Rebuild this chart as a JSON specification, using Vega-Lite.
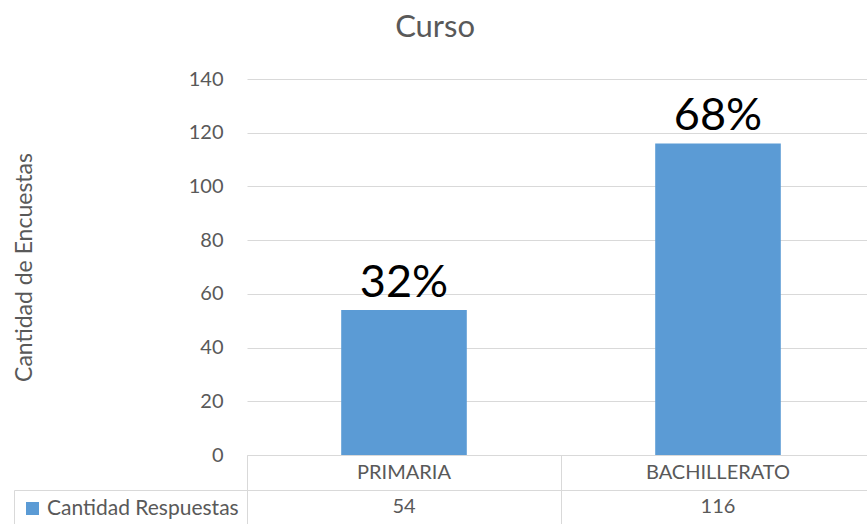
{
  "$schema": "https://vega.github.io/schema/vega-lite/v6.json",
  "padding": {"left": 13, "top": 12, "right": 0, "bottom": 0},
  "config": {"font": "Lato", "view": {"stroke": null}},
  "title": {"text": "Curso", "fontSize": 31, "fontWeight": "normal", "color": "#595959", "anchor": "middle", "frame": "bounds", "offset": 25, "dx": -9},
  "datasets": {
    "curso": [
      {"curso": "PRIMARIA", "cantidad": 54, "pct": "32%", "serie": "Cantidad Respuestas"},
      {"curso": "BACHILLERATO", "cantidad": 116, "pct": "68%", "serie": "Cantidad Respuestas"}
    ]
  },
  "bounds": "flush",
  "spacing": 0,
  "resolve": {"scale": {"color": "independent"}, "legend": {"color": "independent"}},
  "vconcat": [
    {
      "width": 628,
      "height": 376,
      "data": {"name": "curso"},
      "encoding": {
        "x": {"field": "curso", "type": "nominal", "sort": ["PRIMARIA", "BACHILLERATO"],
              "scale": {"paddingInner": 0.6, "paddingOuter": 0.3},
              "axis": {"title": null, "labels": false, "ticks": false, "domainColor": "#d9d9d9"}},
        "y": {"field": "cantidad", "type": "quantitative", "scale": {"domain": [0, 140]},
              "axis": {"values": [0, 20, 40, 60, 80, 100, 120, 140], "title": "Cantidad de Encuestas",
                       "titleFontSize": 23, "titleFontWeight": "normal", "titleColor": "#595959", "titlePadding": 152,
                       "labelFontSize": 20, "labelColor": "#595959", "labelPadding": 24,
                       "ticks": false, "domain": false, "gridColor": "#d9d9d9"}}
      },
      "layer": [
        {"mark": {"type": "bar", "color": "#5B9BD5"}},
        {"mark": {"type": "text", "fontSize": 45, "dy": -13, "baseline": "alphabetic", "color": "#000000"},
         "encoding": {"text": {"field": "pct"}}}
      ]
    },
    {
      "width": 628,
      "height": 35,
      "data": {"name": "curso"},
      "mark": {"type": "text", "fontSize": 20, "color": "#595959", "baseline": "middle"},
      "encoding": {
        "x": {"field": "curso", "type": "nominal", "sort": ["PRIMARIA", "BACHILLERATO"], "scale": {"padding": 0},
              "axis": {"title": null, "labels": false, "ticks": false, "grid": true, "tickBand": "extent",
                       "gridColor": "#d9d9d9", "domainColor": "#d9d9d9"}},
        "text": {"field": "curso"}
      }
    },
    {
      "width": 628,
      "height": 34,
      "data": {"name": "curso"},
      "encoding": {
        "x": {"field": "curso", "type": "nominal", "sort": ["PRIMARIA", "BACHILLERATO"], "scale": {"padding": 0},
              "axis": {"title": null, "labels": false, "ticks": false, "grid": true, "tickBand": "extent",
                       "gridColor": "#d9d9d9", "domain": false}}
      },
      "layer": [
        {"mark": {"type": "text", "fontSize": 20, "color": "#595959", "baseline": "middle"},
         "encoding": {"text": {"field": "cantidad"}}},
        {"mark": {"type": "square", "opacity": 0},
         "encoding": {"color": {"field": "serie", "type": "nominal", "scale": {"range": ["#5B9BD5"]},
                                "legend": {"orient": "left", "title": null, "offset": 0, "symbolType": "square",
                                           "symbolSize": 170, "symbolOpacity": 1, "labelFontSize": 21,
                                           "labelColor": "#595959", "strokeColor": "#d9d9d9", "padding": 8,
                                           "labelLimit": 300}}}}
      ]
    }
  ]
}
